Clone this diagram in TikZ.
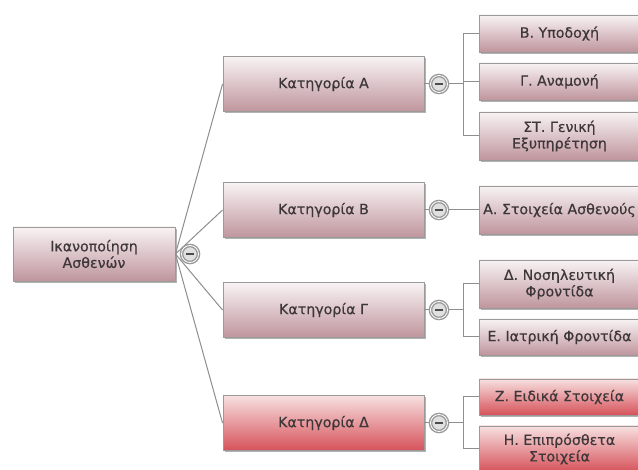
\documentclass[tikz,border=0pt]{standalone}
\usepackage{fontspec}
\setmainfont{DejaVu Sans}
\newfontfamily\boxfont{DejaVu Sans}[FakeBold=0.5]
\usetikzlibrary{shadows}
\definecolor{txt}{HTML}{3E3739}
\definecolor{rosetop}{HTML}{F8F3F4}
\definecolor{rosebot}{HTML}{BF959D}
\definecolor{redtop}{HTML}{F7E0E0}
\definecolor{redbot}{HTML}{D6525A}
\definecolor{edgec}{HTML}{9A9A9A}
\definecolor{connc}{HTML}{8E8E8E}
\tikzset{
  box/.style={rectangle, draw=edgec, line width=0.9pt, top color=rosetop, bottom color=rosebot,
    text=txt, align=center, font=\boxfont\fontsize{14.2}{16.5}\selectfont, inner sep=2pt,
    drop shadow={shadow xshift=2pt, shadow yshift=-2pt, fill=black!55, opacity=0.55}},
  redbox/.style={top color=redtop, bottom color=redbot},
  rootbox/.style={box, minimum width=162pt, minimum height=54pt},
  catbox/.style={box, minimum width=201pt, minimum height=55pt},
  kidbox/.style={box, minimum width=160pt, anchor=west},
  conn/.style={draw=connc, line width=1pt},
  toggle/.style={circle, draw=black!40, line width=1.4pt, fill=black!12, minimum size=17pt, inner sep=0pt,
    text=black!70, double=white, double distance=0.8pt}
}
\begin{document}
\begin{tikzpicture}[x=1pt,y=-1pt]
\useasboundingbox (0,0) rectangle (638,470);
\fill[white] (0,0) rectangle (638,470);
\clip (0,0) rectangle (638,470);
% root
\node[rootbox] (root) at (94,254) {Ικανοποίηση\\Ασθενών};
% categories
\node[catbox] (ca) at (323.5,84) {Κατηγορία Α};
\node[catbox] (cb) at (323.5,210) {Κατηγορία Β};
\node[catbox] (cg) at (323.5,310) {Κατηγορία Γ};
\node[catbox, redbox] (cd) at (323.5,423) {Κατηγορία Δ};
% children
\node[kidbox, minimum height=37pt] (k1) at (479,33.5) {Β. Υποδοχή};
\node[kidbox, minimum height=37pt] (k2) at (479,81.5) {Γ. Αναμονή};
\node[kidbox, minimum height=48pt] (k3) at (479,136) {ΣΤ. Γενική\\Εξυπηρέτηση};
\node[kidbox, minimum height=48pt] (k4) at (479,210) {Α. Στοιχεία Ασθενούς};
\node[kidbox, minimum height=48pt] (k5) at (479,284) {Δ. Νοσηλευτική\\Φροντίδα};
\node[kidbox, minimum height=36pt] (k6) at (479,337) {Ε. Ιατρική Φροντίδα};
\node[kidbox, redbox, minimum height=36pt] (k7) at (479,397) {Ζ. Ειδικά Στοιχεία};
\node[kidbox, redbox, minimum height=46pt] (k8) at (479,449) {Η. Επιπρόσθετα\\Στοιχεία};
% junctions
\coordinate (ja) at (463,84);
\coordinate (jg) at (463,310);
\coordinate (jd) at (463,423);
% connectors
\draw[conn] (root.east) -- (ca.west);
\draw[conn] (root.east) -- (cb.west);
\draw[conn] (root.east) -- (cg.west);
\draw[conn] (root.east) -- (cd.west);
\draw[conn] (ca.east) -- (ja) |- (k1.west);
\draw[conn] (ja) |- (k2.west);
\draw[conn] (ja) |- (k3.west);
\draw[conn] (cb.east) -- (k4.west);
\draw[conn] (cg.east) -- (jg) |- (k5.west);
\draw[conn] (jg) |- (k6.west);
\draw[conn] (cd.east) -- (jd) |- (k7.west);
\draw[conn] (jd) |- (k8.west);
% toggles
\node[toggle] (t0) at (190,254) {\rule[-1.3pt]{7.5pt}{2.6pt}};
\node[toggle] (t1) at (439,84) {\rule[-1.3pt]{7.5pt}{2.6pt}};
\node[toggle] (t2) at (439,210) {\rule[-1.3pt]{7.5pt}{2.6pt}};
\node[toggle] (t3) at (439,310) {\rule[-1.3pt]{7.5pt}{2.6pt}};
\node[toggle] (t4) at (439,423) {\rule[-1.3pt]{7.5pt}{2.6pt}};
\end{tikzpicture}
\end{document}
